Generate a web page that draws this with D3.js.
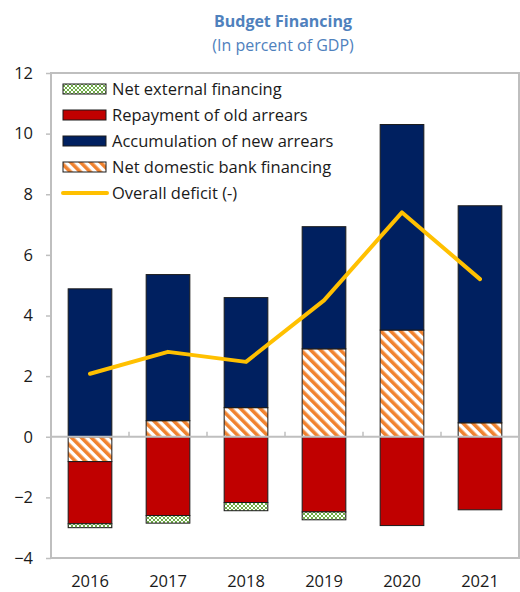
<!DOCTYPE html>
<html>
<head>
<meta charset="utf-8">
<script src="https://cdn.jsdelivr.net/npm/d3@7"></script>
<style>
  body { margin: 0; background: #fff; }
  text { font-family: "Open Sans", "Noto Sans", sans-serif; }
</style>
</head>
<body>
<svg width="520" height="592"></svg>
<script>
// data (percent of GDP)
const years = ['2016', '2017', '2018', '2019', '2020', '2021']
const netDomestic = [-0.82, 0.53, 0.96, 2.9, 3.52, 0.46]
const newArrears = [4.88, 4.82, 3.63, 4.03, 6.78, 7.16]
const oldArrears = [-2.05, -2.6, -2.17, -2.48, -2.93, -2.41]
const netExternal = [-0.13, -0.25, -0.27, -0.26, 0, 0]
const deficit = [2.08, 2.8, 2.47, 4.5, 7.4, 5.2]
const yTicks = [-4, -2, 0, 2, 4, 6, 8, 10, 12]

const series = [
  {name: 'Net external financing', values: netExternal, fill: 'url(#checks)'},
  {name: 'Repayment of old arrears', values: oldArrears, fill: '#C00000'},
  {name: 'Accumulation of new arrears', values: newArrears, fill: '#002060'},
  {name: 'Net domestic bank financing', values: netDomestic, fill: 'url(#stripes)'}
]

const svg = d3.select('svg')
const margin = {top: 73, right: 1, bottom: 34, left: 51}
const width = +svg.attr('width')
const height = +svg.attr('height')
const innerWidth = width - margin.left - margin.right
const innerHeight = height - margin.top - margin.bottom

// patterns for the hatched series
const defs = svg.append('defs')
const stripes = defs.append('pattern')
  .attr('id', 'stripes')
  .attr('patternUnits', 'userSpaceOnUse')
  .attr('width', 7).attr('height', 7)
  .attr('patternTransform', 'rotate(-45)')
stripes.append('rect').attr('width', 7).attr('height', 7).attr('fill', '#fff')
stripes.append('rect').attr('width', 3.6).attr('height', 7).attr('fill', '#F0822F')

const checks = defs.append('pattern')
  .attr('id', 'checks')
  .attr('patternUnits', 'userSpaceOnUse')
  .attr('width', 4).attr('height', 4)
checks.append('rect').attr('width', 4).attr('height', 4).attr('fill', '#fff')
checks.append('rect').attr('width', 2).attr('height', 2).attr('fill', '#70AD47')
checks.append('rect').attr('x', 2).attr('y', 2).attr('width', 2).attr('height', 2).attr('fill', '#70AD47')

// title
svg.append('text')
  .attr('x', 283).attr('y', 27)
  .attr('text-anchor', 'middle')
  .attr('font-size', 16).attr('font-weight', 'bold')
  .attr('fill', '#4F81BD')
  .text('Budget Financing')
svg.append('text')
  .attr('x', 283).attr('y', 51)
  .attr('text-anchor', 'middle')
  .attr('font-size', 16)
  .attr('fill', '#4F81BD')
  .text('(In percent of GDP)')

const xScale = d3.scaleBand()
  .domain(years)
  .range([0, innerWidth])
  .paddingInner(0.44)
  .paddingOuter(0.22)

const yScale = d3.scaleLinear()
  .domain([-4, 12])
  .range([innerHeight, 0])

const g = svg.append('g')
  .attr('transform', `translate(${margin.left},${margin.top})`)

// stack positives up and negatives down
const stacks = years.map(() => ({pos: 0, neg: 0}))
const barData = []
series.slice().reverse().forEach(s => {
  s.values.forEach((v, i) => {
    if (v === 0) return
    let y0, y1
    if (v > 0) { y0 = stacks[i].pos; y1 = y0 + v; stacks[i].pos = y1 }
    else { y0 = stacks[i].neg; y1 = y0 + v; stacks[i].neg = y1 }
    barData.push({year: years[i], y0, y1, fill: s.fill})
  })
})

g.selectAll('rect.bar').data(barData)
  .enter().append('rect')
    .attr('class', 'bar')
    .attr('x', d => xScale(d.year))
    .attr('width', xScale.bandwidth())
    .attr('y', d => yScale(Math.max(d.y0, d.y1)))
    .attr('height', d => Math.abs(yScale(d.y0) - yScale(d.y1)))
    .attr('fill', d => d.fill)
    .attr('stroke', '#1a1a1a')
    .attr('stroke-width', 1)

// frame around plot area
g.append('rect')
  .attr('width', innerWidth).attr('height', innerHeight)
  .attr('fill', 'none')
  .attr('stroke', '#BFBFBF').attr('stroke-width', 2)

// zero line with category ticks
g.append('line')
  .attr('x1', 0).attr('x2', innerWidth)
  .attr('y1', yScale(0)).attr('y2', yScale(0))
  .attr('stroke', '#BFBFBF').attr('stroke-width', 2)
const step = xScale.step()
g.selectAll('line.xtick').data(d3.range(1, years.length))
  .enter().append('line')
    .attr('class', 'xtick')
    .attr('x1', d => d * step).attr('x2', d => d * step)
    .attr('y1', yScale(0)).attr('y2', yScale(0) - 5)
    .attr('stroke', '#BFBFBF').attr('stroke-width', 1.5)

// y axis
const yAxis = g.append('g').call(d3.axisLeft(yScale).tickValues(yTicks).tickSize(5).tickPadding(13))
yAxis.select('.domain').remove()
yAxis.selectAll('line').attr('stroke', '#BFBFBF').attr('stroke-width', 1.5)
yAxis.selectAll('text')
  .attr('font-size', 16.5).attr('fill', '#1a1a1a')
  .attr('font-family', '"Open Sans", sans-serif')

// x labels
g.selectAll('text.xlab').data(years)
  .enter().append('text')
    .attr('class', 'xlab')
    .attr('x', d => xScale(d) + xScale.bandwidth() / 2)
    .attr('y', innerHeight + 29)
    .attr('text-anchor', 'middle')
    .attr('font-size', 16.5).attr('fill', '#1a1a1a')
    .text(d => d)

// deficit line
const line = d3.line()
  .x((d, i) => xScale(years[i]) + xScale.bandwidth() / 2)
  .y(d => yScale(d))
g.append('path')
  .datum(deficit)
  .attr('d', line)
  .attr('fill', 'none')
  .attr('stroke', '#FFC000')
  .attr('stroke-width', 4)
  .attr('stroke-linecap', 'round')
  .attr('stroke-linejoin', 'round')

// legend
const legend = svg.append('g').attr('transform', 'translate(63,89)')
const legendItems = series.concat([{name: 'Overall deficit (-)', line: true}])
legendItems.forEach((d, i) => {
  const row = legend.append('g').attr('transform', `translate(0,${i * 26})`)
  if (d.line) {
    row.append('line')
      .attr('x1', 0).attr('x2', 44)
      .attr('stroke', '#FFC000').attr('stroke-width', 4)
      .attr('stroke-linecap', 'round')
  } else {
    row.append('rect')
      .attr('x', 0).attr('y', -5)
      .attr('width', 43).attr('height', 10)
      .attr('fill', d.fill)
      .attr('stroke', '#1a1a1a').attr('stroke-width', 1)
  }
  row.append('text')
    .attr('x', 49).attr('y', 6)
    .attr('font-size', 16.5).attr('fill', '#1a1a1a')
    .text(d.name)
})
</script>
</body>
</html>
